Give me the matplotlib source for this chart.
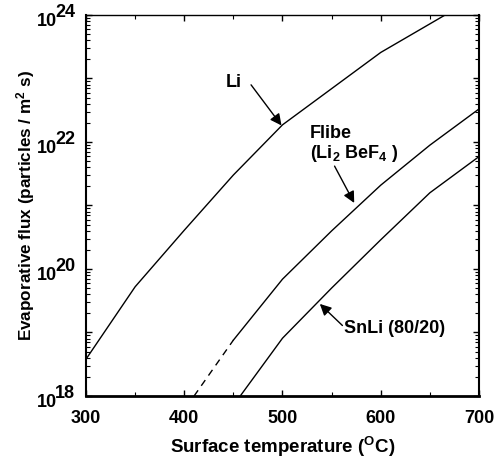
import numpy as np
import matplotlib
matplotlib.use("Agg")
import matplotlib.pyplot as plt
import matplotlib.transforms as mtransforms
from matplotlib.ticker import LogLocator, NullFormatter, MultipleLocator

plt.rcParams['font.family'] = ['Liberation Sans', 'DejaVu Sans']
plt.rcParams['font.weight'] = 'bold'
plt.rcParams['mathtext.fontset'] = 'custom'
plt.rcParams['mathtext.rm'] = 'Liberation Sans:bold'
plt.rcParams['mathtext.bf'] = 'Liberation Sans:bold'
plt.rcParams['mathtext.it'] = 'Liberation Sans:bold'

# Data (log10 of evaporative flux, particles / m^2 s)
li_T = [300, 350, 400, 450, 500, 550, 600, 700]
li_logF = [18.58, 19.72, 20.61, 21.48, 22.27, 22.84, 23.41, 24.31]

flibe_dash_T = [410, 450]
flibe_dash_logF = [18.0, 18.88]
flibe_T = [450, 500, 550, 600, 650, 700]
flibe_logF = [18.88, 19.84, 20.60, 21.32, 21.95, 22.52]

snli_T = [457, 500, 550, 600, 650, 700]
snli_logF = [18.0, 18.91, 19.70, 20.46, 21.20, 21.77]

x_ticks = [300, 400, 500, 600, 700]
y_label_exps = [18, 20, 22, 24]

fig = plt.figure(figsize=(4.96, 4.61), dpi=100)
ax = fig.add_axes([0.1734, 0.141, 0.7923, 0.8265])

lw = 1.0
ax.plot(li_T, 10.0 ** np.array(li_logF), color='black', lw=lw)
ax.plot(flibe_dash_T, 10.0 ** np.array(flibe_dash_logF), color='black', lw=lw,
        dashes=(5, 4))
ax.plot(flibe_T, 10.0 ** np.array(flibe_logF), color='black', lw=lw)
ax.plot(snli_T, 10.0 ** np.array(snli_logF), color='black', lw=lw)

ax.set_yscale('log')
ax.set_xlim(300, 700)
ax.set_ylim(1e18, 1e24)

ax.set_xticks(x_ticks)
ax.xaxis.set_minor_locator(MultipleLocator(50))
ax.yaxis.set_major_locator(LogLocator(base=10, numticks=20))
ax.yaxis.set_minor_locator(LogLocator(base=10, subs=np.arange(2, 10), numticks=20))
ax.yaxis.set_minor_formatter(NullFormatter())
ax.yaxis.set_major_formatter(NullFormatter())

ax.tick_params(which='both', direction='in', top=True, right=True)
ax.tick_params(which='major', length=4.5, width=1.0, labelsize=13, pad=10)
ax.tick_params(which='minor', length=3, width=0.8)
for lab in ax.get_xticklabels():
    lab.set_fontweight('bold')

for side, w in [('left', 1.5), ('bottom', 2.0), ('top', 1.0), ('right', 1.5)]:
    ax.spines[side].set_linewidth(w)

# y tick labels "10" with a full-size raised exponent
trans = mtransforms.blended_transform_factory(ax.transAxes, ax.transData)
for e in y_label_exps:
    y = 10.0 ** e
    off_base = mtransforms.offset_copy(trans, fig=fig, x=-29, y=-7, units='dots')
    ax.text(0, y, '10', transform=off_base, ha='right', va='center',
            fontsize=13, fontweight='bold')
    off_exp = mtransforms.offset_copy(trans, fig=fig, x=-31, y=2, units='dots')
    ax.text(0, y, str(e), transform=off_exp, ha='left', va='center',
            fontsize=13, fontweight='bold')

ax.set_xlabel(r'Surface temperature ($^{\mathrm{O}}$C)', fontsize=13.5,
              fontweight='bold', labelpad=6)
ax.set_ylabel(r'Evaporative flux (particles / m$^{\mathrm{2}}$ s)', fontsize=12.3,
              fontweight='bold', labelpad=25)

arrow_kw = dict(arrowstyle='-|>', color='black', lw=1.0,
                mutation_scale=17, shrinkA=0, shrinkB=0)

# Li
ax.annotate('', xy=(499, 10 ** 22.26), xytext=(468, 10 ** 22.90), arrowprops=arrow_kw)
ax.text(450, 10 ** 22.93, 'Li', fontsize=13, fontweight='bold', ha='center', va='center')

# Flibe
ax.annotate('', xy=(573, 10 ** 21.04), xytext=(553, 10 ** 21.62), arrowprops=arrow_kw)
ax.text(528, 10 ** 22.13, 'Flibe', fontsize=13, fontweight='bold', ha='left', va='center')
ax.text(528, 10 ** 21.82, r'(Li$_{\mathrm{2}}$ BeF$_{\mathrm{4}}$ )', fontsize=13,
        fontweight='bold', ha='left', va='center')

# SnLi
ax.annotate('', xy=(538, 10 ** 19.45), xytext=(561, 10 ** 19.11), arrowprops=arrow_kw)
ax.text(563, 10 ** 19.06, 'SnLi (80/20)', fontsize=13, fontweight='bold',
        ha='left', va='center')

fig.savefig('out.png', dpi=100)
